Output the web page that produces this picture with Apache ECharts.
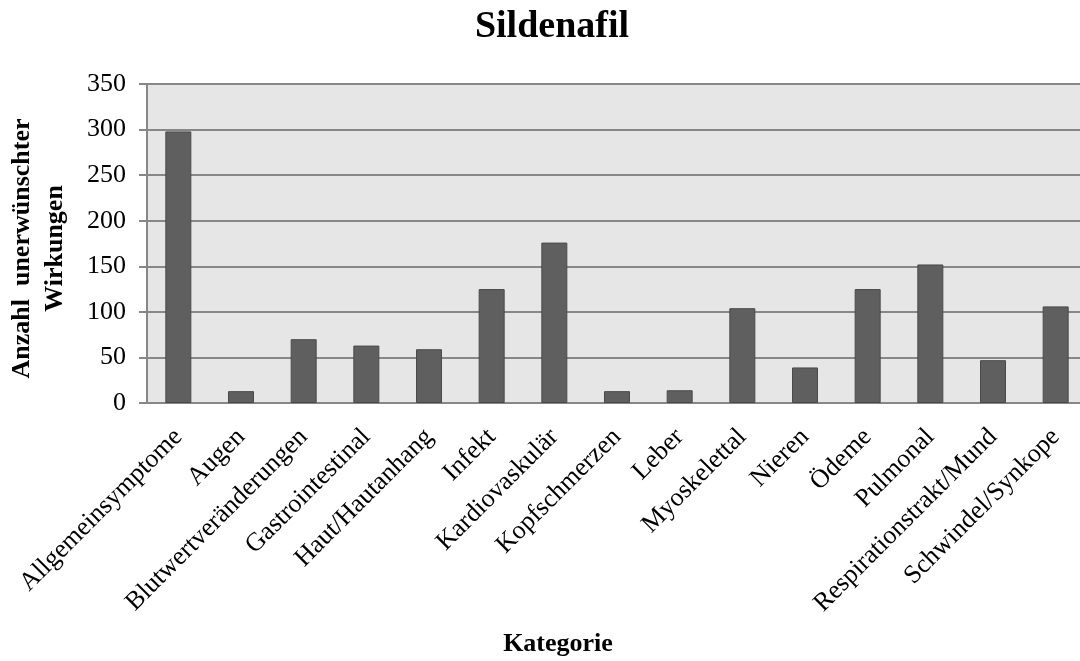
<!DOCTYPE html>
<html>
<head>
<meta charset="utf-8">
<script src="https://cdn.jsdelivr.net/npm/echarts@6/dist/echarts.min.js"></script>
<style>html,body{margin:0;padding:0;background:#fff}#c{width:1080px;height:661px}</style>
</head>
<body>
<div id="c"></div>
<script>
const categories = ['Allgemeinsymptome','Augen','Blutwertveränderungen','Gastrointestinal','Haut/Hautanhang','Infekt','Kardiovaskulär','Kopfschmerzen','Leber','Myoskelettal','Nieren','Ödeme','Pulmonal','Respirationstrakt/Mund','Schwindel/Synkope'];
const values = [298, 13, 70, 63, 59, 125, 176, 13, 14, 104, 39, 125, 152, 47, 106];
const yTicks = [0, 50, 100, 150, 200, 250, 300, 350];

const FONT = '"Liberation Serif", "Times New Roman", serif';
const chart = echarts.init(document.getElementById('c'), null, {renderer: 'canvas'});
chart.setOption({
  animation: false,
  backgroundColor: '#ffffff',
  title: [
    {text: 'Sildenafil', left: 547, top: 3, textAlign: 'center',
     textStyle: {fontFamily: FONT, fontSize: 38, fontWeight: 'bold', color: '#000'}},
    {text: 'Kategorie', left: 553, top: 626, textAlign: 'center',
     textStyle: {fontFamily: FONT, fontSize: 26, fontWeight: 'bold', color: '#000'}}
  ],
  grid: {left: 147, top: 84, width: 940, height: 319, show: true, backgroundColor: '#e6e6e6', borderWidth: 0,
         containLabel: false, outerBoundsMode: 'none'},
  xAxis: {
    type: 'category', data: categories,
    axisLine: {lineStyle: {color: '#878787', width: 2}},
    axisTick: {show: false},
    axisLabel: {rotate: 45, interval: 0, margin: 30, fontFamily: FONT, fontSize: 26, color: '#000'}
  },
  yAxis: {
    type: 'value', min: 0, max: yTicks[yTicks.length - 1], interval: yTicks[1] - yTicks[0],
    name: 'Anzahl  unerwünschter\nWirkungen', nameLocation: 'middle', nameGap: 75, nameRotate: 90,
    nameTextStyle: {fontFamily: FONT, fontSize: 26, fontWeight: 'bold', color: '#000', lineHeight: 33, align: 'center',
                    padding: [0, 10, 0, 0]},
    axisLine: {show: true, lineStyle: {color: '#878787', width: 2}},
    axisTick: {show: true, length: 8, lineStyle: {color: '#878787', width: 2}},
    axisLabel: {margin: 21, fontFamily: FONT, fontSize: 26, color: '#000'},
    splitLine: {lineStyle: {color: '#878787', width: 2}}
  },
  series: [{
    type: 'bar', data: values, barWidth: 26,
    itemStyle: {color: '#5f5f5f', borderColor: '#4a4a4a', borderWidth: 1}
  }]
});
</script>
</body>
</html>
